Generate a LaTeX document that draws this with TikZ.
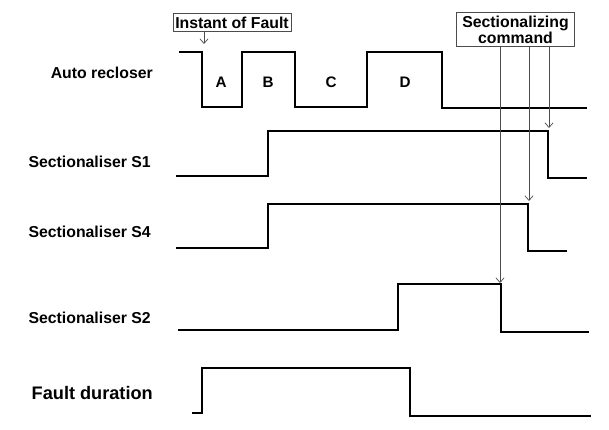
\documentclass[tikz,border=0pt]{standalone}
\usepackage{fontspec}
\setmainfont{Liberation Sans}
\usetikzlibrary{arrows.meta,positioning}

\begin{document}
\begin{tikzpicture}[x=0.03cm,y=-0.03cm,
  wave/.style={line width=2.2pt,line join=miter},
  cmdarrow/.style={gray!60!black,line width=0.6pt,-{Straight Barb[length=4pt,width=7pt]}},
  tag/.style={draw=gray!60!black,line width=0.6pt,fill=white,inner xsep=2pt,inner ysep=2.5pt,font=\fontsize{13.5}{11.5}\selectfont\bfseries,align=center},
  rowlabel/.style={anchor=east,inner sep=0pt,font=\fontsize{13.5}{15}\selectfont\bfseries},
  seglabel/.style={font=\fontsize{13}{14}\selectfont\bfseries}]
  \useasboundingbox (0,0) rectangle (609,430);
  % Row labels
  \node[rowlabel] (lblar) at (153,73) {Auto recloser};
  \node[rowlabel] (lbls1) at (151,162) {Sectionaliser S1};
  \node[rowlabel] (lbls4) at (151,232) {Sectionaliser S4};
  \node[rowlabel] (lbls2) at (151,318) {Sectionaliser S2};
  \node[rowlabel,font=\fontsize{15.5}{17}\selectfont\bfseries] (lblfd) at (153,393) {Fault duration};
  % Auto recloser
  \draw[wave] (179,52) -- (202,52) -- (202,107) -- (242,107) -- (242,52) -- (295,52) -- (295,107)
    -- (367,107) -- (367,52) -- (442,52) -- (442,108) -- (587,108);
  \foreach \t/\x in {A/221,B/268,C/331,D/405}
    \node[seglabel] (seg\t) at (\x,82) {\t};
  % Sectionalisers
  \draw[wave] (176,176) -- (268,176) -- (268,131) -- (548,131) -- (548,178) -- (587,178);
  \draw[wave] (176,248) -- (268,248) -- (268,204) -- (528,204) -- (528,251) -- (567,251);
  \draw[wave] (178,330) -- (398,330) -- (398,284) -- (501,284) -- (501,332) -- (589,332);
  % Fault duration
  \draw[wave] (192,413) -- (202,413) -- (202,368) -- (410,368) -- (410,416) -- (591,416);
  % Instant of fault
  \node[tag] (inst) at (232,22.5) {Instant of Fault};
  \coordinate (faultpt) at (204,44);
  \draw[cmdarrow] (inst.south -| faultpt) -- (faultpt);
  % Sectionalizing command
  \node[tag,inner xsep=5pt] (cmd) at (515.5,29.5) {Sectionalizing\\command};
  \coordinate (s1off) at (549,128);
  \coordinate (s4off) at (529,201);
  \coordinate (s2off) at (500,283);
  \foreach \c in {s1off,s4off,s2off}
    \draw[cmdarrow] (cmd.south -| \c) -- (\c);
\end{tikzpicture}
\end{document}
